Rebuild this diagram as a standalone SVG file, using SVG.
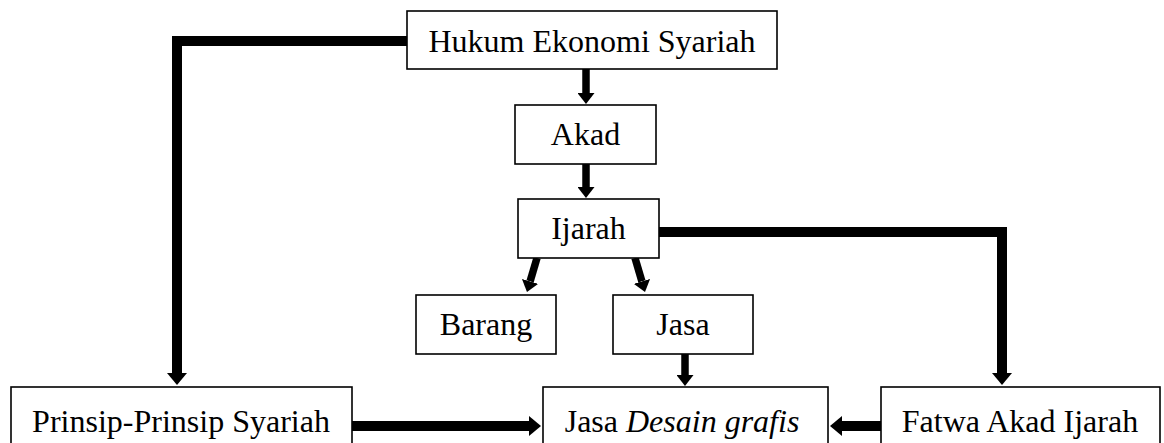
<svg xmlns="http://www.w3.org/2000/svg" width="1164" height="443" viewBox="0 0 1164 443">
  <style>
    .box { fill: #ffffff; stroke: #000000; stroke-width: 1.6; }
    .lbl { font-family: "Liberation Serif", "Times New Roman", serif; font-size: 32px; fill: #000000; text-anchor: middle; }
    .conn { fill: none; stroke: #000000; stroke-width: 10; stroke-linejoin: miter; stroke-linecap: butt; }
    .thin { fill: none; stroke: #000000; stroke-width: 7.5; stroke-linecap: butt; }
  </style>
  <defs>
    <marker id="big" viewBox="0 0 12 20" markerWidth="12" markerHeight="20" refX="0" refY="10" orient="auto" markerUnits="userSpaceOnUse">
      <path d="M0,0 L12,10 L0,20 Z" fill="#000000"/>
    </marker>
    <marker id="small" viewBox="0 0 11 17" markerWidth="11" markerHeight="17" refX="0" refY="8.5" orient="auto" markerUnits="userSpaceOnUse">
      <path d="M0,0 L11,8.5 L0,17 Z" fill="#000000"/>
    </marker>
  </defs>
  <rect width="1164" height="443" fill="#ffffff"/>

  <g id="connectors">
    <polyline class="conn" points="407,41 177,41 177,373" marker-end="url(#big)"/>
    <line class="thin" x1="586" y1="69" x2="586" y2="93" marker-end="url(#small)"/>
    <line class="thin" x1="586" y1="164" x2="586" y2="187" marker-end="url(#small)"/>
    <line class="thin" x1="537" y1="258" x2="530.1" y2="281.4" marker-end="url(#small)"/>
    <line class="thin" x1="635" y1="258" x2="641.9" y2="281.4" marker-end="url(#small)"/>
    <polyline class="conn" points="659,232 1002,232 1002,373" marker-end="url(#big)"/>
    <line class="thin" x1="685" y1="354" x2="685" y2="375" marker-end="url(#small)"/>
    <line class="conn" x1="352" y1="426" x2="529" y2="426" marker-end="url(#big)"/>
    <line class="conn" x1="881" y1="426" x2="842" y2="426" marker-end="url(#big)"/>
  </g>

  <g id="hukum">
    <rect class="box" x="407" y="11" width="370" height="58"/>
    <text class="lbl" x="592" y="52">Hukum Ekonomi Syariah</text>
  </g>
  <g id="akad">
    <rect class="box" x="515" y="105" width="141" height="59"/>
    <text class="lbl" x="585.5" y="145">Akad</text>
  </g>
  <g id="ijarah">
    <rect class="box" x="518" y="199" width="141" height="59"/>
    <text class="lbl" x="588.5" y="239">Ijarah</text>
  </g>
  <g id="barang">
    <rect class="box" x="416" y="295" width="140" height="59"/>
    <text class="lbl" x="486" y="335">Barang</text>
  </g>
  <g id="jasa">
    <rect class="box" x="613" y="295" width="140" height="59"/>
    <text class="lbl" x="683" y="335">Jasa</text>
  </g>
  <g id="prinsip">
    <rect class="box" x="11" y="387" width="341" height="70"/>
    <text class="lbl" x="181" y="432">Prinsip-Prinsip Syariah</text>
  </g>
  <g id="jasa-desain">
    <rect class="box" x="543" y="387" width="285" height="70"/>
    <text class="lbl" x="682" y="432">Jasa <tspan font-style="italic">Desain grafis</tspan></text>
  </g>
  <g id="fatwa">
    <rect class="box" x="881" y="387" width="279" height="70"/>
    <text class="lbl" x="1020" y="432">Fatwa Akad Ijarah</text>
  </g>
</svg>
